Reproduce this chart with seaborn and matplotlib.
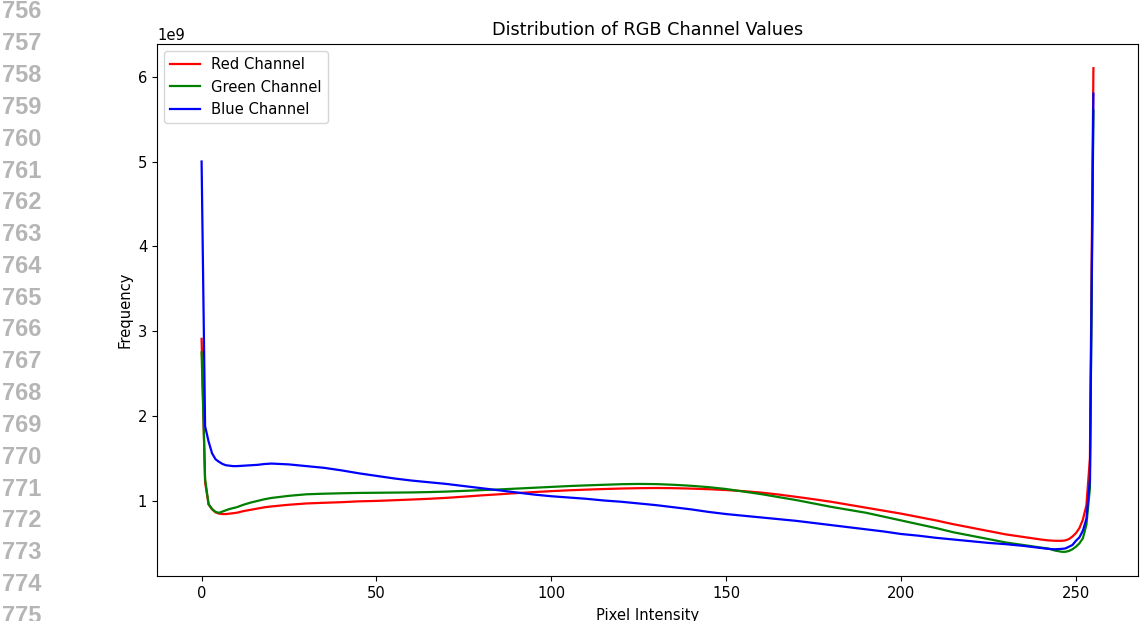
import matplotlib
matplotlib.use("Agg")
import matplotlib.pyplot as plt
import seaborn as sns
import numpy as np
import pandas as pd

intensity = [0, 1, 2, 3, 4, 5, 6, 7, 8, 9, 10, 12, 14, 16, 18, 20,
             25, 30, 35, 40, 45, 50, 55, 60, 65, 70, 75, 80, 85, 90, 95,
             100, 105, 110, 115, 120, 125, 130, 135, 140, 145, 150, 155,
             160, 165, 170, 175, 180, 185, 190, 195, 200, 205, 210, 215,
             220, 225, 230, 235, 240, 242, 244, 246, 247, 248, 249, 250,
             251, 252, 253, 254, 255]

red_vals = [2.91, 1.22, 0.96, 0.90, 0.865, 0.85, 0.845, 0.845, 0.85, 0.855, 0.86,
            0.88, 0.895, 0.91, 0.925, 0.935,
            0.955, 0.97, 0.978, 0.985, 0.995, 1.0, 1.008, 1.016, 1.025, 1.036,
            1.05, 1.065, 1.078, 1.092, 1.104,
            1.115, 1.125, 1.133, 1.14, 1.146, 1.15, 1.152, 1.15, 1.145, 1.138,
            1.128, 1.115, 1.098, 1.075, 1.048, 1.02, 0.99, 0.955, 0.92, 0.885,
            0.85, 0.81, 0.77, 0.725, 0.685, 0.645, 0.605, 0.575, 0.545,
            0.535, 0.53, 0.53, 0.535, 0.55, 0.58, 0.62, 0.68, 0.78, 0.95, 1.5, 6.1]

green_vals = [2.75, 1.26, 0.96, 0.905, 0.87, 0.86, 0.875, 0.89, 0.905, 0.915, 0.925,
              0.955, 0.98, 1.0, 1.02, 1.035,
              1.06, 1.078, 1.085, 1.09, 1.094, 1.096, 1.098, 1.1, 1.104, 1.11,
              1.118, 1.127, 1.135, 1.145, 1.155,
              1.165, 1.175, 1.183, 1.19, 1.197, 1.2, 1.198, 1.19, 1.178, 1.162,
              1.14, 1.11, 1.08, 1.045, 1.01, 0.97, 0.93, 0.895, 0.86, 0.815,
              0.77, 0.725, 0.68, 0.63, 0.59, 0.55, 0.51, 0.48, 0.45,
              0.44, 0.415, 0.40, 0.40, 0.41, 0.43, 0.46, 0.50, 0.56, 0.72, 1.15, 5.6]

blue_vals = [5.0, 1.88, 1.70, 1.56, 1.49, 1.46, 1.435, 1.42, 1.415, 1.41, 1.41,
             1.415, 1.42, 1.425, 1.435, 1.44,
             1.43, 1.41, 1.39, 1.36, 1.325, 1.295, 1.265, 1.24, 1.22, 1.20,
             1.175, 1.15, 1.125, 1.10, 1.075,
             1.055, 1.04, 1.025, 1.005, 0.99, 0.97, 0.95, 0.925, 0.90, 0.87,
             0.845, 0.825, 0.805, 0.785, 0.765, 0.74, 0.715, 0.69, 0.665, 0.64,
             0.61, 0.59, 0.565, 0.545, 0.525, 0.505, 0.49, 0.47, 0.445,
             0.435, 0.43, 0.435, 0.44, 0.46, 0.48, 0.53, 0.57, 0.65, 0.79, 1.25, 5.8]

channels = ["Red Channel", "Green Channel", "Blue Channel"]
colors = ["red", "green", "blue"]
series = [red_vals, green_vals, blue_vals]

line_numbers = list(range(756, 776))

plt.rcParams["font.size"] = 10.6

fig = plt.figure(figsize=(11.4, 6.21), dpi=100)
ax = fig.add_axes([157 / 1140, 45 / 621, 981 / 1140, 532 / 621])

for name, col, vals in zip(channels, colors, series):
    df = pd.DataFrame({"Pixel Intensity": intensity,
                       "Frequency": np.array(vals) * 1e9})
    sns.lineplot(data=df, x="Pixel Intensity", y="Frequency", color=col,
                 label=name, ax=ax, linewidth=1.6)

ax.set_title("Distribution of RGB Channel Values", fontsize=12.7, pad=6.5)
ax.set_xlabel("Pixel Intensity", labelpad=5)
ax.set_ylabel("Frequency")
ax.legend(loc="upper left")

for i, n in enumerate(line_numbers):
    y_px = 12 + i * 31.8
    fig.text(2 / 1140, 1 - y_px / 621, str(n), fontsize=17,
             fontweight="bold", color="#b5b5b5", family="Liberation Sans",
             ha="left", va="center")

fig.savefig("out.png", dpi=100)
